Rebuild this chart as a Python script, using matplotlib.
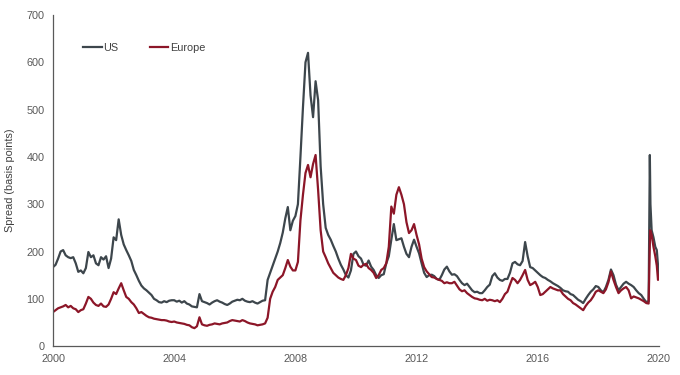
import matplotlib
matplotlib.use("Agg")
import matplotlib.pyplot as plt
import numpy as np

plt.rcParams['font.family'] = ['Liberation Sans', 'DejaVu Sans']

# Monthly spread values (basis points), Jan 2000 .. Aug 2019
us_monthly = [
    167, 172, 185, 200, 203, 192, 188, 186, 188, 175, 157, 160,   # 2000
    154, 165, 199, 188, 192, 175, 171, 188, 183, 190, 165, 185,   # 2001
    230, 224, 268, 235, 215, 203, 192, 180, 161, 150, 138, 128,   # 2002
    122, 118, 113, 108, 100, 97, 93, 92, 95, 93, 96, 97,          # 2003
    97, 94, 96, 92, 95, 90, 88, 84, 83, 82, 110, 95,              # 2004
    93, 91, 88, 92, 95, 97, 94, 92, 89, 87, 90, 94,               # 2005
    96, 98, 97, 100, 96, 94, 93, 95, 92, 90, 93, 96,              # 2006
    97, 140, 155, 170, 185, 200, 218, 240, 270, 294, 245, 265,    # 2007
    275, 300, 400, 505, 600, 620, 530, 484, 560, 520, 380, 300,   # 2008
    250, 235, 225, 212, 200, 185, 172, 162, 150, 145, 160, 195,   # 2009
    200, 190, 185, 172, 170, 181, 168, 161, 150, 144, 150, 152,   # 2010
    175, 190, 225, 258, 224, 226, 228, 210, 195, 188, 210, 225,   # 2011
    210, 196, 175, 155, 146, 150, 151, 148, 142, 140, 150, 162,   # 2012
    168, 158, 151, 152, 148, 140, 133, 129, 132, 125, 118, 114,   # 2013
    115, 112, 112, 118, 125, 130, 148, 154, 145, 140, 138, 142,   # 2014
    142, 155, 175, 178, 173, 171, 180, 220, 190, 167, 165, 160,   # 2015
    155, 150, 146, 144, 140, 137, 133, 130, 127, 123, 118, 116,   # 2016
    115, 110, 108, 103, 98, 95, 91, 100, 108, 115, 120, 127,      # 2017
    125, 118, 114, 125, 140, 162, 150, 130, 118, 125, 132, 136,   # 2018
    132, 129, 125, 118, 112, 108, 100, 93,                        # 2019
]
us_tail_t = [2019.66, 2019.70, 2019.72, 2019.76, 2019.82, 2019.88, 2019.93, 2019.97, 2020.0]
us_tail_v = [95, 404, 300, 245, 230, 210, 203, 170, 146]

eu_monthly = [
    72, 76, 80, 82, 84, 87, 82, 85, 80, 78, 72, 76,               # 2000
    78, 90, 104, 100, 92, 87, 85, 90, 84, 83, 88, 100,            # 2001
    114, 110, 122, 133, 118, 104, 100, 93, 88, 80, 70, 72,        # 2002
    68, 64, 61, 60, 58, 57, 56, 55, 55, 54, 52, 51,               # 2003
    52, 50, 49, 48, 47, 45, 44, 40, 38, 42, 61, 46,               # 2004
    44, 43, 45, 46, 48, 47, 46, 48, 49, 50, 53, 55,               # 2005
    54, 53, 52, 55, 53, 50, 48, 47, 46, 44, 45, 46,               # 2006
    48, 60, 100, 115, 125, 140, 145, 150, 165, 182, 168, 160,     # 2007
    160, 178, 266, 320, 366, 383, 357, 385, 404, 330, 245, 200,   # 2008
    188, 175, 165, 155, 150, 145, 142, 140, 150, 165, 195, 185,   # 2009
    182, 170, 167, 172, 174, 165, 161, 155, 144, 150, 161, 165,   # 2010
    175, 210, 295, 280, 320, 336, 320, 300, 262, 239, 245, 258,   # 2011
    235, 215, 185, 167, 158, 152, 146, 145, 142, 140, 138, 133,   # 2012
    135, 133, 133, 136, 128, 120, 116, 118, 112, 108, 104, 101,   # 2013
    100, 98, 97, 100, 96, 98, 97, 95, 97, 93, 100, 110,           # 2014
    115, 130, 144, 140, 133, 140, 150, 161, 140, 129, 132, 136,   # 2015
    125, 108, 110, 115, 120, 125, 122, 120, 118, 118, 110, 105,   # 2016
    100, 97, 91, 88, 84, 80, 76, 85, 92, 97, 105, 115,            # 2017
    118, 115, 112, 120, 135, 158, 140, 125, 112, 118, 122, 125,   # 2018
    118, 101, 105, 103, 101, 98, 95, 91,                          # 2019
]
eu_tail_t = [2019.66, 2019.71, 2019.76, 2019.82, 2019.88, 2019.93, 2019.97, 2020.0]
eu_tail_v = [90, 245, 235, 210, 190, 170, 140, 150]

series_names = ["US", "Europe"]
x_ticks = [2000, 2004, 2008, 2012, 2016, 2020]
y_ticks = [0, 100, 200, 300, 400, 500, 600, 700]

us_t = np.concatenate([2000 + np.arange(len(us_monthly)) / 12.0, us_tail_t])
us_v = np.concatenate([us_monthly, us_tail_v])
eu_t = np.concatenate([2000 + np.arange(len(eu_monthly)) / 12.0, eu_tail_t])
eu_v = np.concatenate([eu_monthly, eu_tail_v])

fig = plt.figure(figsize=(6.8, 3.75), dpi=100)
ax = fig.add_axes([0.078, 0.077, 0.891, 0.883])

ax.plot(us_t, us_v, color="#3d464c", lw=1.6, label=series_names[0])
ax.plot(eu_t, eu_v, color="#8c1628", lw=1.6, label=series_names[1])

ax.set_xlim(2000, 2020)
ax.set_ylim(0, 700)
ax.set_xticks(x_ticks)
ax.set_xticklabels([str(t) for t in x_ticks])
ax.set_yticks(y_ticks)

for s in ["top", "right"]:
    ax.spines[s].set_visible(False)
for s in ["left", "bottom"]:
    ax.spines[s].set_color("#595959")
    ax.spines[s].set_linewidth(0.9)
ax.tick_params(length=0, labelsize=7.8, colors="#595959", pad=6)
ax.set_ylabel("Spread (basis points)", fontsize=7.8, color="#404040", labelpad=8)

leg = ax.legend(loc="upper left", bbox_to_anchor=(0.043, 0.93), ncol=2, frameon=False,
                fontsize=7.8, handlelength=1.7, handletextpad=0.15, columnspacing=2.9,
                borderaxespad=0)
for t in leg.get_texts():
    t.set_color("#404040")

fig.savefig("out.png", dpi=100)
